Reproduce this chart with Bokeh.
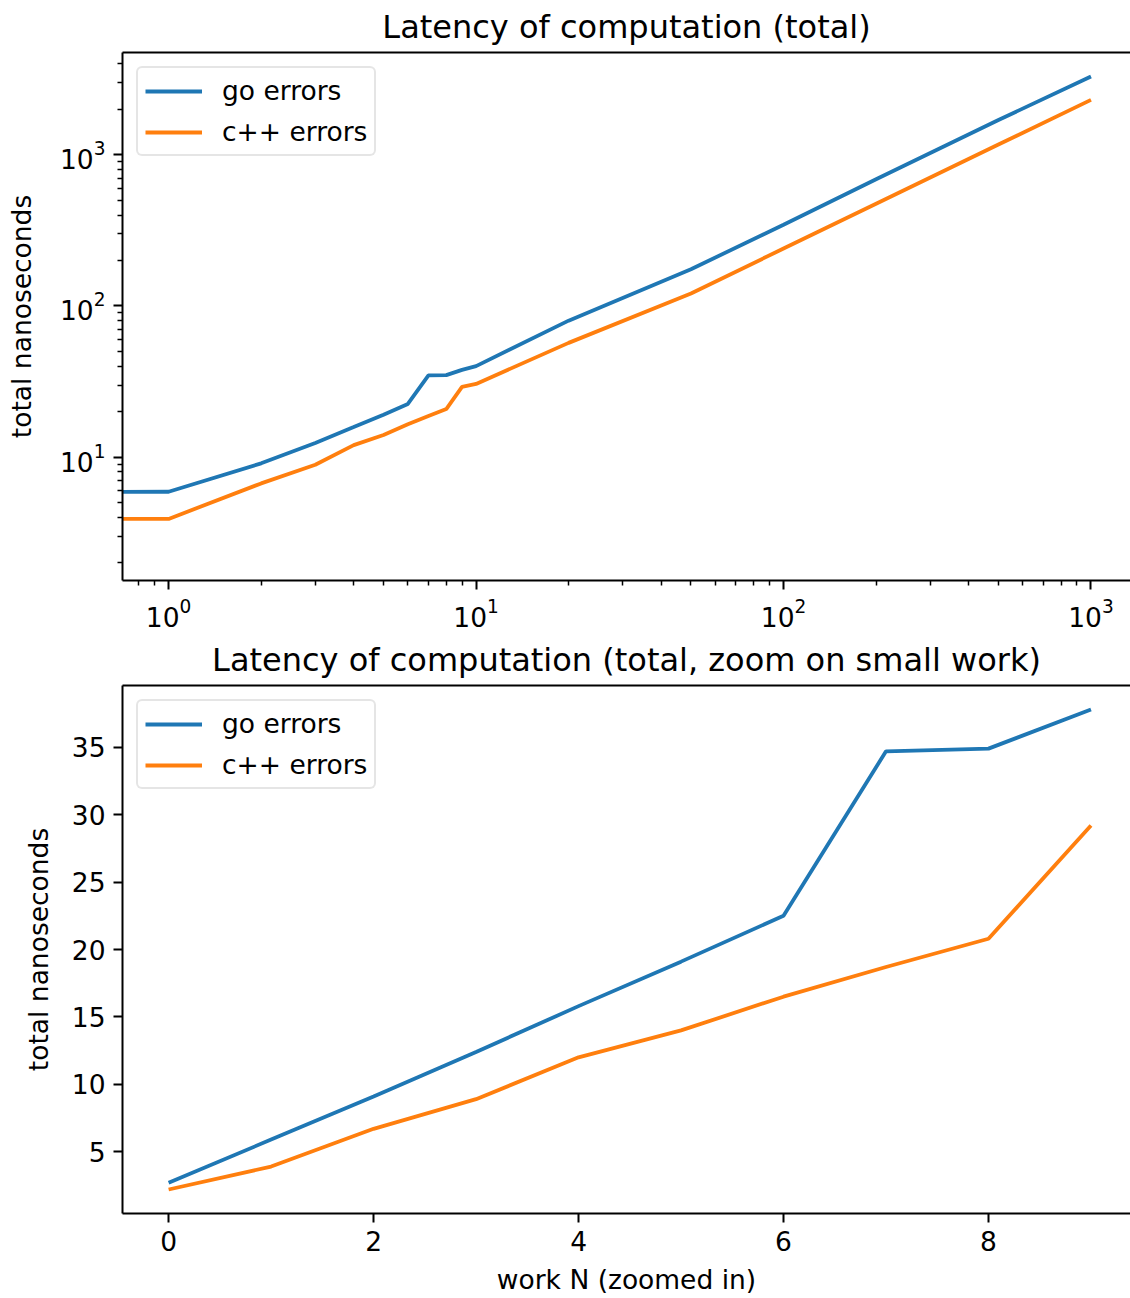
import math
from bokeh.plotting import figure
from bokeh.models import Range1d, FixedTicker, SingleIntervalTicker, LogAxis, LinearAxis
from bokeh.layouts import column
from bokeh.embed import file_html
from bokeh.resources import INLINE

# ---------------- data ----------------
work_small = [0, 1, 2, 3, 4, 5, 6, 7, 8, 9]
go_small = [2.7, 5.9, 9.1, 12.4, 15.8, 19.1, 22.5, 34.7, 34.9, 37.8]
cpp_small = [2.2, 3.9, 6.7, 8.9, 12.0, 14.0, 16.5, 18.7, 20.8, 29.2]

work_large = [10, 20, 50, 100, 200, 500, 1000]
go_large = [40.0, 80.0, 175.0, 345.0, 690.0, 1700.0, 3300.0]
cpp_large = [30.5, 57.0, 121.0, 240.0, 475.0, 1170.0, 2310.0]

series_names = ["go errors", "c++ errors"]
title_top = "Latency of computation (total)"
title_bottom = "Latency of computation (total, zoom on small work)"
ylabel = "total nanoseconds"
xlabel_bottom = "work N (zoomed in)"

log_major_ticks = [1, 10, 100, 1000]
log_minor_ticks = [k * 10.0 ** e for e in range(-1, 4) for k in range(2, 10)]

work_all = work_small + work_large
go_all = go_small + go_large
cpp_all = cpp_small + cpp_large
# log axis: non-positive x is clipped to a tiny positive value (as matplotlib does)
work_all_log = [w if w > 0 else 1e-300 for w in work_all]

# ---------------- style ----------------
FONT = "DejaVu Sans"
BLUE = "#1f77b4"
ORANGE = "#ff7f0e"
TXT = "#000000"
FIG_W = 1130
LEFT = 122
FRAME_W = FIG_W - LEFT
REF_FRAME_W = 1014.6        # reference frame is cut by the right image edge
VISIBLE = FRAME_W / REF_FRAME_W


def mpl_limits(lo, hi, visible=1.0):
    span = hi - lo
    start = lo - 0.05 * span
    end = start + 1.1 * span * visible
    return start, end


def style(p, ylab, ylab_standoff, xlab=None):
    p.title.align = "center"
    p.title.vertical_align = "top"
    p.title.text_font = FONT
    p.title.text_font_size = "32px"
    p.title.text_font_style = "normal"
    p.title.text_color = TXT
    p.title.standoff = 10
    p.outline_line_color = None
    p.background_fill_color = "white"
    p.border_fill_color = "white"
    p.xgrid.grid_line_color = None
    p.ygrid.grid_line_color = None
    for ax in list(p.xaxis) + list(p.yaxis):
        ax.axis_line_color = "black"
        ax.axis_line_width = 2
        ax.major_tick_line_color = "black"
        ax.major_tick_line_width = 2
        ax.minor_tick_line_color = "black"
        ax.minor_tick_line_width = 1.5
        ax.major_tick_out = 9
        ax.major_tick_in = 0
        ax.minor_tick_out = 5
        ax.minor_tick_in = 0
        ax.major_label_text_font = FONT
        ax.major_label_text_font_size = "26.5px"
        ax.major_label_text_color = TXT
        ax.major_label_standoff = 8
        ax.axis_label_text_font = FONT
        ax.axis_label_text_font_size = "26.5px"
        ax.axis_label_text_font_style = "normal"
        ax.axis_label_text_color = TXT
        ax.axis_label_standoff = 10
    # the top spine carries nothing
    sp = p.above[0]
    sp.major_label_standoff = 0
    sp.axis_label_standoff = 0
    sp.major_tick_out = 0
    sp.minor_tick_out = 0
    p.left[0].axis_label = ylab
    p.left[0].axis_label_standoff = ylab_standoff
    if xlab:
        p.below[0].axis_label = xlab
    lg = p.legend[0]
    lg.location = "top_left"
    lg.margin = 14
    lg.padding = 7
    lg.spacing = 10
    lg.glyph_width = 57
    lg.glyph_height = 30
    lg.label_standoff = 20
    lg.label_text_font = FONT
    lg.label_text_font_size = "26.5px"
    lg.label_text_color = TXT
    lg.border_line_color = "#cccccc"
    lg.border_line_width = 2
    lg.background_fill_alpha = 0.8
    try:
        lg.border_radius = 6
    except Exception:
        pass


# ---------------- top: log-log ----------------
xs, xe = mpl_limits(math.log10(1), math.log10(max(work_all)), VISIBLE)
ys, ye = mpl_limits(math.log10(min(go_all + cpp_all)), math.log10(max(go_all + cpp_all)))

p1 = figure(width=FIG_W, height=635, x_axis_type="log", y_axis_type="log",
            x_range=Range1d(10 ** xs, 10 ** xe), y_range=Range1d(10 ** ys, 10 ** ye),
            output_backend="svg", toolbar_location=None,
            min_border_left=LEFT, min_border_right=0, min_border_top=52, min_border_bottom=55,
            title=title_top)
p1.line(work_all_log, go_all, line_color=BLUE, line_width=3.8, legend_label=series_names[0])
p1.line(work_all_log, cpp_all, line_color=ORANGE, line_width=3.8, legend_label=series_names[1])
p1.xaxis.ticker = FixedTicker(ticks=log_major_ticks, minor_ticks=log_minor_ticks)
p1.yaxis.ticker = FixedTicker(ticks=log_major_ticks, minor_ticks=log_minor_ticks)
top_spine1 = LogAxis(ticker=FixedTicker(ticks=[]))
p1.add_layout(top_spine1, "above")
style(p1, ylabel, 20)

# ---------------- bottom: linear zoom ----------------
bxs, bxe = mpl_limits(min(work_small), max(work_small), VISIBLE)
bys, bye = mpl_limits(min(go_small + cpp_small), max(go_small + cpp_small))

p2 = figure(width=FIG_W, height=663,
            x_range=Range1d(bxs, bxe), y_range=Range1d(bys, bye),
            output_backend="svg", toolbar_location=None,
            min_border_left=LEFT, min_border_right=0, min_border_top=50, min_border_bottom=85,
            title=title_bottom)
p2.line(work_small, go_small, line_color=BLUE, line_width=3.8, legend_label=series_names[0])
p2.line(work_small, cpp_small, line_color=ORANGE, line_width=3.8, legend_label=series_names[1])
p2.xaxis.ticker = SingleIntervalTicker(interval=2, num_minor_ticks=0)
p2.yaxis.ticker = SingleIntervalTicker(interval=5, num_minor_ticks=0)
top_spine2 = LinearAxis(ticker=FixedTicker(ticks=[]))
p2.add_layout(top_spine2, "above")
style(p2, ylabel, 15, xlabel_bottom)

layout = column(p1, p2, spacing=0)
open("out.html", "w").write(file_html(layout, INLINE))
